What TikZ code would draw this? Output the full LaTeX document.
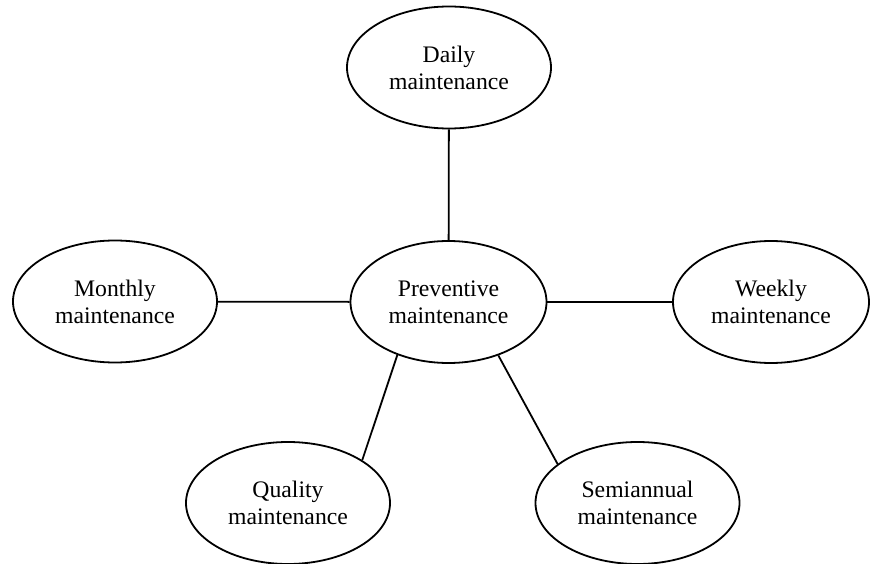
\documentclass[tikz,border=0pt]{standalone}
\usepackage{fontspec}
\setmainfont{Liberation Serif}
\usetikzlibrary{shapes.geometric}
\begin{document}
\begin{tikzpicture}[x=1pt,y=-1pt,line width=1.8pt,
    task/.style={draw,ellipse,align=center,inner sep=0pt,minimum width=204pt,minimum height=122pt,font=\fontsize{23.7}{27}\selectfont}]
\useasboundingbox (0,0) rectangle (870,564);
% centre and the four kinds around it
\node[task,minimum width=196pt] (prev) at (448.5,302) {Preventive\\maintenance};
\node[task] (daily) at (449,67.5) {Daily\\maintenance};
\node[task] (monthly) at (115,301.5) {Monthly\\maintenance};
\node[task,minimum width=196pt] (weekly) at (771,302) {Weekly\\maintenance};
\node[task] (quality) at (288,503) {Quality\\maintenance};
\node[task] (semi) at (637.5,503) {Semiannual\\maintenance};
\draw (daily) -- (prev);
\draw (monthly) -- (prev);
\draw (prev) -- (weekly);
\draw (prev.226) -- (quality.30);
\draw (prev.313) -- (semi.154);
\end{tikzpicture}
\end{document}
